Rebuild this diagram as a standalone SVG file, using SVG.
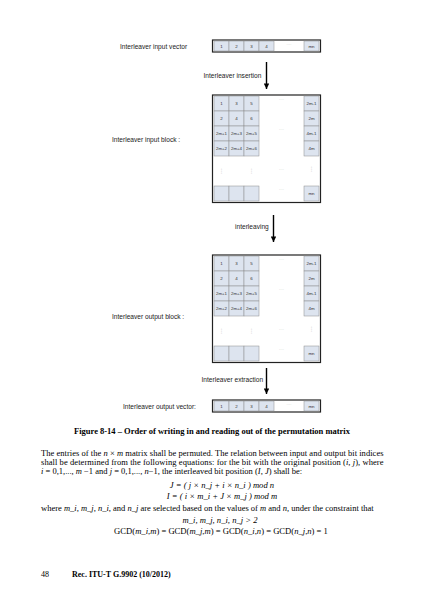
<svg xmlns="http://www.w3.org/2000/svg" width="424" height="600" viewBox="0 0 424 600">
<style>
.bg{fill:#ffffff}
.lbl{font-family:"Liberation Sans",Arial,sans-serif;font-size:6.6px;fill:#222}
.cell{fill:#dde4ef;stroke:#8c8c8c;stroke-width:0.5}
.frame{fill:none;stroke:#222;stroke-width:1.2}
.ct{font-family:"Liberation Sans",Arial,sans-serif;font-size:4.4px;fill:#333;text-anchor:middle}
.dots{font-family:"Liberation Sans",Arial,sans-serif;font-size:4.4px;fill:#aaa;text-anchor:middle}
.vd{font-family:"DejaVu Sans",sans-serif;font-size:6px;fill:#bbb;text-anchor:middle}
.arr{stroke:#000;stroke-width:1.4;fill:none}
.body{font-family:"Liberation Serif","Times New Roman",serif;font-size:8.5px;fill:#000}
.eq{font-family:"Liberation Serif","Times New Roman",serif;font-size:8.6px;fill:#000}
.cap{font-family:"Liberation Serif","Times New Roman",serif;font-size:8.5px;font-weight:bold;fill:#000;text-anchor:middle}
.foot{font-family:"Liberation Serif","Times New Roman",serif;font-size:8px;fill:#000}
.it{font-style:italic}
.b{font-weight:bold}
</style>
<defs>
<marker id="ah" viewBox="0 0 10 10" refX="10" refY="5" markerWidth="4.5" markerHeight="4" orient="auto" markerUnits="strokeWidth">
<path d="M0,0 L10,5 L0,10 z" fill="#000"/>
</marker>
</defs>
<rect class="bg" x="0" y="0" width="424" height="600"/>

<g id="input-vector">
<text class="lbl" x="120" y="49">Interleaver input vector</text>
<rect class="frame" x="212.5" y="40" width="108" height="12"/>
<rect class="cell" x="214" y="41" width="15" height="10"/>
<rect class="cell" x="229" y="41" width="15" height="10"/>
<rect class="cell" x="244" y="41" width="15" height="10"/>
<rect class="cell" x="259" y="41" width="15" height="10"/>
<rect class="cell" x="304" y="41" width="15" height="10"/>
<text class="ct" x="221.5" y="47.6">1</text>
<text class="ct" x="236.5" y="47.6">2</text>
<text class="ct" x="251.5" y="47.6">3</text>
<text class="ct" x="266.5" y="47.6">4</text>
<text class="dots" x="289" y="45">....</text>
<text class="ct" x="311.5" y="47.6">mn</text>
</g>

<g id="input-block">
<text class="lbl" x="112" y="142">Interleaver input block :</text>
<rect class="frame" x="212.5" y="95" width="108" height="107.5"/>
<rect class="cell" x="214" y="96" width="15" height="15"/>
<rect class="cell" x="229" y="96" width="15" height="15"/>
<rect class="cell" x="244" y="96" width="15" height="15"/>
<rect class="cell" x="304" y="96" width="15" height="15"/>
<rect class="cell" x="214" y="111" width="15" height="15"/>
<rect class="cell" x="229" y="111" width="15" height="15"/>
<rect class="cell" x="244" y="111" width="15" height="15"/>
<rect class="cell" x="304" y="111" width="15" height="15"/>
<rect class="cell" x="214" y="126" width="15" height="15"/>
<rect class="cell" x="229" y="126" width="15" height="15"/>
<rect class="cell" x="244" y="126" width="15" height="15"/>
<rect class="cell" x="304" y="126" width="15" height="15"/>
<rect class="cell" x="214" y="141" width="15" height="15"/>
<rect class="cell" x="229" y="141" width="15" height="15"/>
<rect class="cell" x="244" y="141" width="15" height="15"/>
<rect class="cell" x="304" y="141" width="15" height="15"/>
<rect class="cell" x="214" y="186" width="15" height="15"/>
<rect class="cell" x="229" y="186" width="15" height="15"/>
<rect class="cell" x="244" y="186" width="15" height="15"/>
<rect class="cell" x="304" y="186" width="15" height="15"/>
<text class="ct" x="221.5" y="104.6">1</text>
<text class="ct" x="236.5" y="104.6">3</text>
<text class="ct" x="251.5" y="104.6">5</text>
<text class="ct" x="311.5" y="104.6">2m-1</text>
<text class="ct" x="221.5" y="119.6">2</text>
<text class="ct" x="236.5" y="119.6">4</text>
<text class="ct" x="251.5" y="119.6">6</text>
<text class="ct" x="311.5" y="119.6">2m</text>
<text class="ct" x="221.5" y="134.6">2m+1</text>
<text class="ct" x="236.5" y="134.6">2m+3</text>
<text class="ct" x="251.5" y="134.6">2m+5</text>
<text class="ct" x="311.5" y="134.6">4m-1</text>
<text class="ct" x="221.5" y="149.6">2m+2</text>
<text class="ct" x="236.5" y="149.6">2m+4</text>
<text class="ct" x="251.5" y="149.6">2m+6</text>
<text class="ct" x="311.5" y="149.6">4m</text>
<text class="ct" x="311.5" y="194.6">mn</text>
<text class="dots" x="281.5" y="100">....</text>
<text class="dots" x="281.5" y="130">....</text>
<text class="dots" x="281.5" y="170">....</text>
<text class="dots" x="281.5" y="190">....</text>
<text class="vd" x="221.5" y="173">⋮</text>
<text class="vd" x="251.5" y="173">⋮</text>
<text class="vd" x="311.5" y="171">⋮</text>
</g>

<g id="output-block">
<text class="lbl" x="112" y="319">Interleaver output block :</text>
<rect class="frame" x="212.5" y="255" width="108" height="107.5"/>
<rect class="cell" x="214" y="256" width="15" height="15"/>
<rect class="cell" x="229" y="256" width="15" height="15"/>
<rect class="cell" x="244" y="256" width="15" height="15"/>
<rect class="cell" x="304" y="256" width="15" height="15"/>
<rect class="cell" x="214" y="271" width="15" height="15"/>
<rect class="cell" x="229" y="271" width="15" height="15"/>
<rect class="cell" x="244" y="271" width="15" height="15"/>
<rect class="cell" x="304" y="271" width="15" height="15"/>
<rect class="cell" x="214" y="286" width="15" height="15"/>
<rect class="cell" x="229" y="286" width="15" height="15"/>
<rect class="cell" x="244" y="286" width="15" height="15"/>
<rect class="cell" x="304" y="286" width="15" height="15"/>
<rect class="cell" x="214" y="301" width="15" height="15"/>
<rect class="cell" x="229" y="301" width="15" height="15"/>
<rect class="cell" x="244" y="301" width="15" height="15"/>
<rect class="cell" x="304" y="301" width="15" height="15"/>
<rect class="cell" x="214" y="346" width="15" height="15"/>
<rect class="cell" x="229" y="346" width="15" height="15"/>
<rect class="cell" x="244" y="346" width="15" height="15"/>
<rect class="cell" x="304" y="346" width="15" height="15"/>
<text class="ct" x="221.5" y="264.6">1</text>
<text class="ct" x="236.5" y="264.6">3</text>
<text class="ct" x="251.5" y="264.6">5</text>
<text class="ct" x="311.5" y="264.6">2m-1</text>
<text class="ct" x="221.5" y="279.6">2</text>
<text class="ct" x="236.5" y="279.6">4</text>
<text class="ct" x="251.5" y="279.6">6</text>
<text class="ct" x="311.5" y="279.6">2m</text>
<text class="ct" x="221.5" y="294.6">2m+1</text>
<text class="ct" x="236.5" y="294.6">2m+3</text>
<text class="ct" x="251.5" y="294.6">2m+5</text>
<text class="ct" x="311.5" y="294.6">4m-1</text>
<text class="ct" x="221.5" y="309.6">2m+2</text>
<text class="ct" x="236.5" y="309.6">2m+4</text>
<text class="ct" x="251.5" y="309.6">2m+6</text>
<text class="ct" x="311.5" y="309.6">4m</text>
<text class="ct" x="311.5" y="354.6">mn</text>
<text class="dots" x="281.5" y="260">....</text>
<text class="dots" x="281.5" y="290">....</text>
<text class="dots" x="281.5" y="330">....</text>
<text class="dots" x="281.5" y="350">....</text>
<text class="vd" x="221.5" y="333">⋮</text>
<text class="vd" x="251.5" y="333">⋮</text>
<text class="vd" x="311.5" y="331">⋮</text>
</g>

<g id="output-vector">
<text class="lbl" x="123" y="409">Interleaver output vector:</text>
<rect class="frame" x="212.5" y="400" width="108" height="12"/>
<rect class="cell" x="214" y="401" width="15" height="10"/>
<rect class="cell" x="229" y="401" width="15" height="10"/>
<rect class="cell" x="244" y="401" width="15" height="10"/>
<rect class="cell" x="259" y="401" width="15" height="10"/>
<rect class="cell" x="304" y="401" width="15" height="10"/>
<text class="ct" x="221.5" y="407.6">1</text>
<text class="ct" x="236.5" y="407.6">2</text>
<text class="ct" x="251.5" y="407.6">3</text>
<text class="ct" x="266.5" y="407.6">4</text>
<text class="dots" x="289" y="405">....</text>
<text class="ct" x="311.5" y="407.6">mn</text>
</g>

<g id="connectors">
<line class="arr" x1="266.5" y1="62" x2="266.5" y2="89" marker-end="url(#ah)"/>
<text class="lbl" x="203.5" y="78">Interleaver insertion</text>
<line class="arr" x1="273.5" y1="215" x2="273.5" y2="242" marker-end="url(#ah)"/>
<text class="lbl" x="235" y="229">interleaving</text>
<line class="arr" x1="266.5" y1="368" x2="266.5" y2="394" marker-end="url(#ah)"/>
<text class="lbl" x="201.5" y="382">Interleaver extraction</text>
</g>

<g id="caption-and-text">
<text class="cap" x="212" y="434">Figure 8-14 – Order of writing in and reading out of the permutation matrix</text>
<text class="body" x="41" y="455.5" textLength="342.5" lengthAdjust="spacing">The entries of the <tspan class="it">n</tspan> × <tspan class="it">m</tspan> matrix shall be permuted. The relation between input and output bit indices</text>
<text class="body" x="41" y="464.8" textLength="342.5" lengthAdjust="spacing">shall be determined from the following equations: for the bit with the original position (<tspan class="it">i</tspan>, <tspan class="it">j</tspan>), where</text>
<text class="body" x="41" y="474"><tspan class="it">i</tspan> = 0,1,..., <tspan class="it">m</tspan> −1 and <tspan class="it">j</tspan> = 0,1,..., <tspan class="it">n</tspan>−1, the interleaved bit position (<tspan class="it">I</tspan>, <tspan class="it">J</tspan>) shall be:</text>
<text class="eq it" x="222" y="488" text-anchor="middle">J = ( j × n_j + i × n_i ) mod n</text>
<text class="eq it" x="222" y="499" text-anchor="middle">I = ( i × m_i + J × m_j ) mod m</text>
<text class="body" x="41" y="511">where <tspan class="it">m_i</tspan>, <tspan class="it">m_j</tspan>, <tspan class="it">n_i</tspan>, and <tspan class="it">n_j</tspan> are selected based on the values of <tspan class="it">m</tspan> and <tspan class="it">n</tspan>, under the constraint that</text>
<text class="eq it" x="220" y="523" text-anchor="middle">m_i, m_j, n_i, n_j &gt; 2</text>
<text class="eq" x="221" y="534" text-anchor="middle">GCD(<tspan class="it">m_i</tspan>,<tspan class="it">m</tspan>) = GCD(<tspan class="it">m_j</tspan>,<tspan class="it">m</tspan>) = GCD(<tspan class="it">n_i</tspan>,<tspan class="it">n</tspan>) = GCD(<tspan class="it">n_j</tspan>,<tspan class="it">n</tspan>) = 1</text>
<text class="foot" x="41" y="577">48</text>
<text class="foot b" x="72" y="577">Rec. ITU-T G.9902 (10/2012)</text>
</g>
</svg>
